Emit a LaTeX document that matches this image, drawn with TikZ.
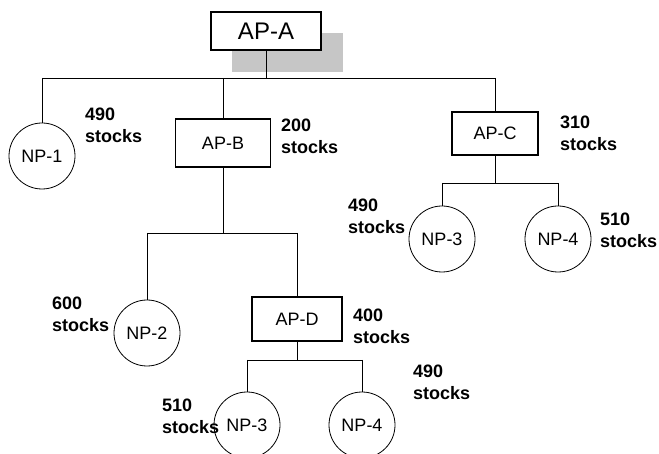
\documentclass[tikz,border=0pt]{standalone}
\usepackage{fontspec}
\setmainfont{Liberation Sans}
\begin{document}
\begin{tikzpicture}[x=1pt,y=-1pt,
  apbox/.style={draw,line width=1.2pt,fill=white,inner sep=0pt,font=\fontsize{18}{21}\selectfont},
  npcirc/.style={draw,circle,line width=0.8pt,fill=white,minimum size=66pt,inner sep=0pt,font=\fontsize{18}{21}\selectfont},
  lbl/.style={anchor=west,align=left,inner sep=0pt,font=\fontsize{18}{22}\selectfont\bfseries},
  wire/.style={line width=0.9pt},
  shadebox/.style={fill=gray!45,inner sep=0pt}]
\useasboundingbox (0,0) rectangle (659,454);
% shadow behind AP-A
\node[shadebox,minimum width=111pt,minimum height=39pt] (shade) at (287.5,52.5) {};
% nodes
\node[apbox,minimum width=110pt,minimum height=38pt,font=\fontsize{24}{28}\selectfont] (apa) at (266,31) {AP-A};
\node[apbox,minimum width=95pt,minimum height=48pt] (apb) at (223,143) {AP-B};
\node[apbox,minimum width=86pt,minimum height=43pt] (apc) at (495,133.5) {AP-C};
\node[apbox,minimum width=90pt,minimum height=44pt] (apd) at (297,319) {AP-D};
\node[npcirc] (np1) at (42,156) {NP-1};
\node[npcirc] (np2) at (147,333) {NP-2};
\node[npcirc] (np3a) at (442,239) {NP-3};
\node[npcirc] (np4a) at (558,239) {NP-4};
\node[npcirc] (np3b) at (247,425) {NP-3};
\node[npcirc] (np4b) at (362,425) {NP-4};
% bus coordinates
\coordinate (busA) at (266,78);
\coordinate (busB) at (223,233);
\coordinate (busC) at (495,183);
\coordinate (busD) at (297,360);
% connectors
\draw[wire] (apa) -- (busA);
\draw[wire] (np1 |- busA) -- (apc |- busA);
\draw[wire] (np1 |- busA) -- (np1);
\draw[wire] (apb |- busA) -- (apb);
\draw[wire] (apc |- busA) -- (apc);
\draw[wire] (apb) -- (busB);
\draw[wire] (np2 |- busB) -- (apd |- busB);
\draw[wire] (np2 |- busB) -- (np2);
\draw[wire] (apd |- busB) -- (apd);
\draw[wire] (apc) -- (busC);
\draw[wire] (np3a |- busC) -- (np4a |- busC);
\draw[wire] (np3a |- busC) -- (np3a);
\draw[wire] (np4a |- busC) -- (np4a);
\draw[wire] (apd) -- (busD);
\draw[wire] (np3b |- busD) -- (np4b |- busD);
\draw[wire] (np3b |- busD) -- (np3b);
\draw[wire] (np4b |- busD) -- (np4b);
% labels
\node[lbl] (l1) at (85,125.5) {490\\stocks};
\node[lbl] (l2) at (281,136.5) {200\\stocks};
\node[lbl] (l3) at (560,133) {310\\stocks};
\node[lbl] (l4) at (348,216) {490\\stocks};
\node[lbl] (l5) at (600,230) {510\\stocks};
\node[lbl] (l6) at (52,314) {600\\stocks};
\node[lbl] (l7) at (353,326) {400\\stocks};
\node[lbl] (l8) at (413,382.5) {490\\stocks};
\node[lbl] (l9) at (162,416) {510\\stocks};
\end{tikzpicture}
\end{document}
